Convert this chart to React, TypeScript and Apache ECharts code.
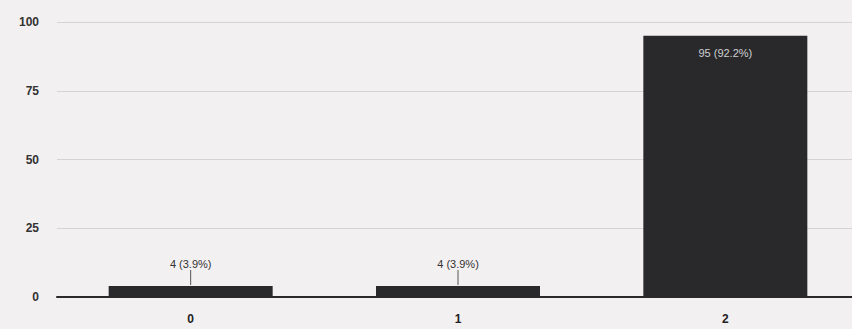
import React, { useEffect, useRef } from "react";
import * as echarts from "echarts";

const categories = ["0", "1", "2"];
const counts = [4, 4, 95];
const percents = ["3.9%", "3.9%", "92.2%"];
const yTicks = [0, 25, 50, 75, 100];

export default function App() {
  const ref = useRef<HTMLDivElement>(null);
  useEffect(() => {
    const chart = echarts.init(ref.current!, null, { renderer: "svg" });
    const font = "Liberation Sans, Arial, sans-serif";
    chart.setOption({
      animation: false,
      backgroundColor: "#f3f0f2",
      grid: { left: 57, top: 22, width: 802, height: 275, containLabel: false },
      xAxis: {
        type: "category",
        data: categories,
        axisLine: { lineStyle: { color: "#2a2a2a", width: 2 } },
        axisTick: { show: false },
        axisLabel: { color: "#222", fontFamily: font, fontSize: 12, fontWeight: "bold", margin: 16 },
      },
      yAxis: {
        type: "value",
        min: yTicks[0],
        max: yTicks[yTicks.length - 1],
        interval: 25,
        axisLine: { show: false },
        axisTick: { show: false },
        splitLine: { lineStyle: { color: "#d6d3d5", width: 1 } },
        axisLabel: { color: "#333333", fontFamily: font, fontSize: 12, fontWeight: "bold", margin: 18 },
      },
      series: [
        {
          type: "bar",
          barWidth: 164,
          itemStyle: { color: "#29292c" },
          data: counts.map((v) => ({
            value: v,
            label:
              v > 20
                ? { show: true, position: "insideTop", distance: 12, color: "#d0d0d0", fontSize: 11, fontFamily: font }
                : { show: true, position: "top", distance: 17, color: "#333", fontSize: 11, fontFamily: font },
          })),
          label: {
            formatter: (p: any) => `${counts[p.dataIndex]} (${percents[p.dataIndex]})`,
          },
        },
        {
          type: "custom",
          silent: true,
          data: counts.map((v, i) => [i, v]),
          renderItem: (params: any, api: any) => {
            const v = api.value(1);
            if (v > 20) return null;
            const p = api.coord([api.value(0), v]);
            return {
              type: "line",
              shape: { x1: p[0], y1: p[1] - 1, x2: p[0], y2: p[1] - 16 },
              style: { stroke: "#555", lineWidth: 1 },
            };
          },
          z: 5,
        },
      ],
    });
    return () => chart.dispose();
  }, []);
  return (
    <div style={{ position: "fixed", left: 0, top: 0, width: 852, height: 329, overflow: "hidden" }}>
      <div ref={ref} style={{ width: 862, height: 329 }} />
    </div>
  );
}
